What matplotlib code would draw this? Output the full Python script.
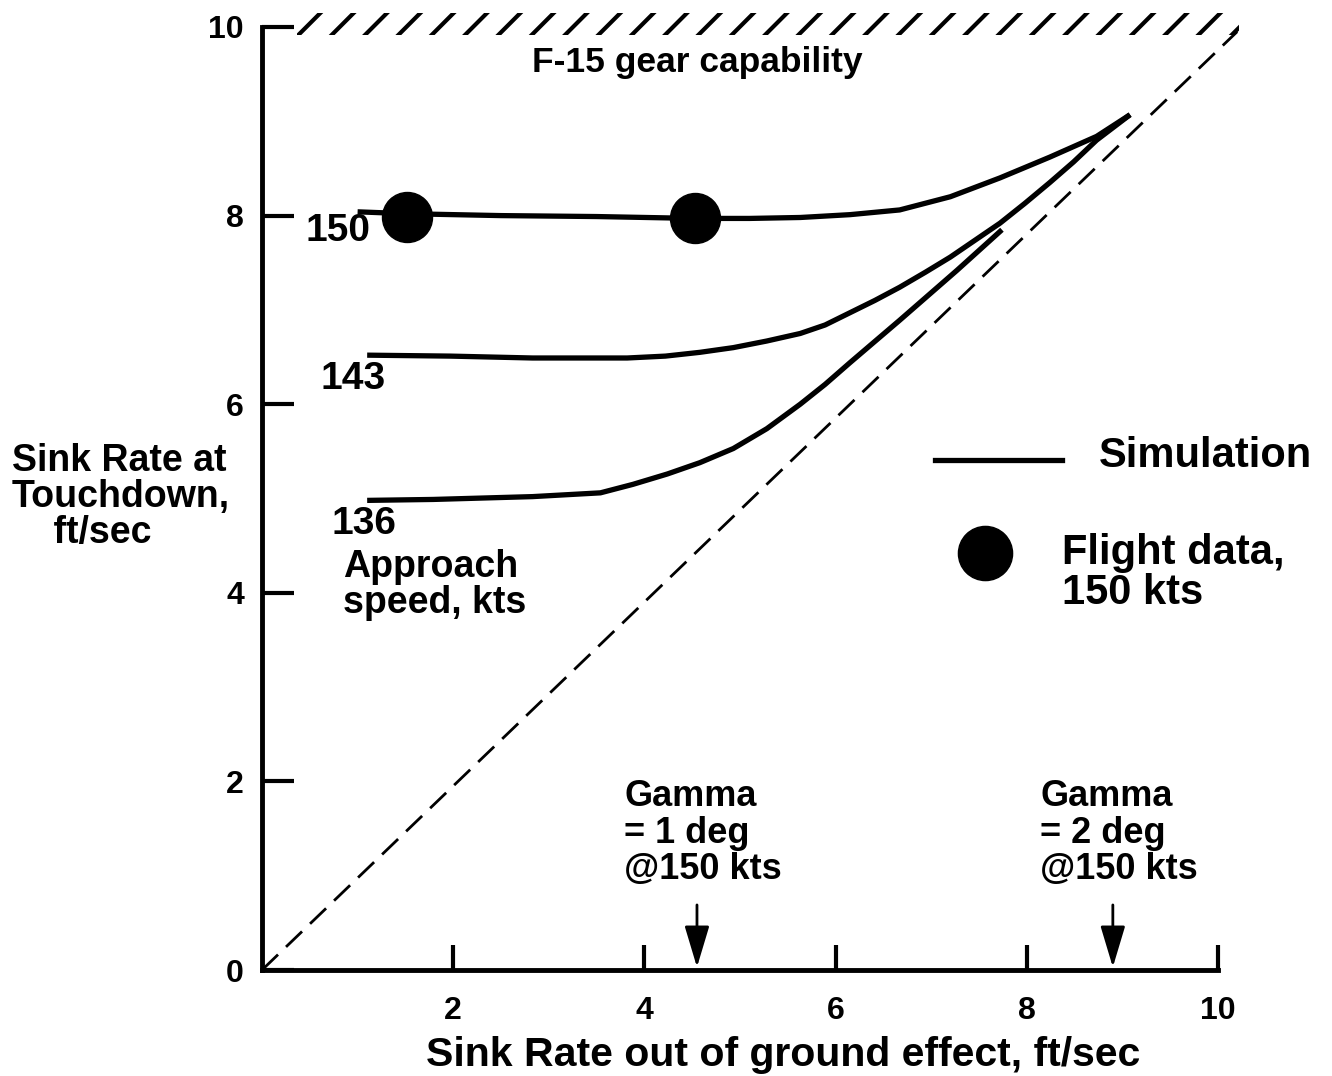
import matplotlib
matplotlib.use('Agg')
import numpy as np
import matplotlib.pyplot as plt
from matplotlib import rcParams
from matplotlib.patches import Rectangle

params = {
    'font.family': 'Liberation Sans',
    'font.weight': 'bold',
    'axes.linewidth': 3.5,
    'hatch.linewidth': 3.0,
    'figure.dpi': 100,
}
rcParams.update(params)

# simulated touchdown sink rate vs sink rate out of ground effect (ft/sec)
speed_labels = ['150', '143', '136']

sim_150_x = [1.00, 1.52, 2.50, 3.50, 4.53, 5.10, 5.63, 6.15, 6.67, 7.20, 7.72, 8.24, 8.73, 9.08]
sim_150_y = [8.04, 8.02, 8.00, 7.99, 7.97, 7.97, 7.98, 8.01, 8.06, 8.20, 8.40, 8.62, 8.84, 9.07]

sim_143_x = [1.10, 1.97, 2.83, 3.82, 4.22, 4.58, 4.93, 5.28, 5.63, 5.89, 6.15, 6.41, 6.67,
             6.94, 7.20, 7.46, 7.72, 7.98, 8.24, 8.49, 8.73, 9.08]
sim_143_y = [6.52, 6.51, 6.49, 6.49, 6.51, 6.55, 6.60, 6.67, 6.75, 6.84, 6.97, 7.10, 7.24,
             7.40, 7.56, 7.74, 7.92, 8.13, 8.35, 8.57, 8.80, 9.07]

sim_136_x = [1.10, 1.79, 2.83, 3.54, 3.88, 4.24, 4.58, 4.93, 5.28, 5.63, 5.89, 6.15, 6.67,
             7.27, 7.74]
sim_136_y = [4.98, 4.99, 5.02, 5.06, 5.15, 5.26, 5.38, 5.53, 5.74, 6.00, 6.21, 6.44, 6.89,
             7.42, 7.85]

# flight data points, 150 kts
flight_x = [1.52, 4.53]
flight_y = [7.99, 7.97]

# no ground effect reference line
ref_x = [0.0, 10.2]
ref_y = [0.0, 9.95]

gear_limit = 10.0
gear_start, gear_end = 0.37, 10.22

gamma_x = [4.55, 8.9]
gamma_labels = ['Gamma\n= 1 deg\n@150 kts', 'Gamma\n= 2 deg\n@150 kts']

xticks = [2, 4, 6, 8, 10]
yticks = [0, 2, 4, 6, 8, 10]

if __name__ == '__main__':
    fig = plt.figure(figsize=(13.32, 10.76))
    ax = fig.add_axes([262 / 1332., 1 - 970 / 1076., 956 / 1332., 943 / 1076.])
    ax.set_xlim(0, 10)
    ax.set_ylim(0, 10)

    for s in ['top', 'right']:
        ax.spines[s].set_visible(False)

    ax.set_xticks(xticks)
    ax.set_xticklabels([str(t) for t in xticks])
    ax.set_yticks(yticks)
    ax.set_yticklabels([str(t) for t in yticks])
    ax.tick_params(axis='x', direction='in', length=18, width=3, pad=19, labelsize=23)
    ax.tick_params(axis='y', direction='in', length=23, width=3, pad=13, labelsize=23)

    ax.set_xlabel('Sink Rate out of ground effect, ft/sec', fontsize=29.5, fontweight='bold')
    ax.xaxis.set_label_coords(0.545, -0.07)
    fig.text(0.009, 0.538, 'Sink Rate at\nTouchdown,\n    ft/sec', ha='left', va='center',
             fontsize=27, fontweight='bold', linespacing=1.0)

    # gear capability limit
    ax.add_patch(Rectangle((gear_start, gear_limit - 0.08), gear_end - gear_start, 0.23,
                           fill=False, hatch='/', edgecolor='k', linewidth=0, clip_on=False))
    ax.text(4.55, 9.62, 'F-15 gear capability', ha='center', va='center', fontsize=25.5)

    ax.plot(ref_x, ref_y, color='k', lw=2, linestyle=(0, (8, 4)), clip_on=False)

    curves = [(sim_150_x, sim_150_y), (sim_143_x, sim_143_y), (sim_136_x, sim_136_y)]
    label_offsets = [(-14, -14), (-10, -17), (-2, -17)]
    for (cx, cy), lab, off in zip(curves, speed_labels, label_offsets):
        ax.plot(cx, cy, color='k', lw=3.8, solid_capstyle='butt', solid_joinstyle='round',
                clip_on=False)
        ax.annotate(lab, xy=(cx[0], cy[0]), xytext=off, textcoords='offset points',
                    ha='center', va='center', fontsize=28)
    ax.text(0.85, 4.08, 'Approach\nspeed, kts', ha='left', va='center', fontsize=27,
            linespacing=1.0)

    ax.plot(flight_x, flight_y, 'o', color='k', markersize=36, zorder=5)

    # key
    ax.plot([7.04, 8.37], [5.41, 5.41], color='k', lw=3.8)
    ax.text(8.75, 5.45, 'Simulation', ha='left', va='center', fontsize=30)
    ax.plot([7.56], [4.42], 'o', color='k', markersize=39, clip_on=False)
    ax.text(8.37, 4.21, 'Flight data,\n150 kts', ha='left', va='center', fontsize=30,
            linespacing=1.0)

    # flight path angle markers
    for gx, glab in zip(gamma_x, gamma_labels):
        ax.annotate('', xy=(gx, 0.03), xytext=(gx, 0.69),
                    arrowprops=dict(arrowstyle='-|>,head_length=1.5,head_width=0.45',
                                    mutation_scale=17, lw=2, color='k', shrinkA=0, shrinkB=0))
        ax.text(gx - 0.76, 1.45, glab, ha='left', va='center', fontsize=26, linespacing=1.05)

    plt.savefig('out.png')
